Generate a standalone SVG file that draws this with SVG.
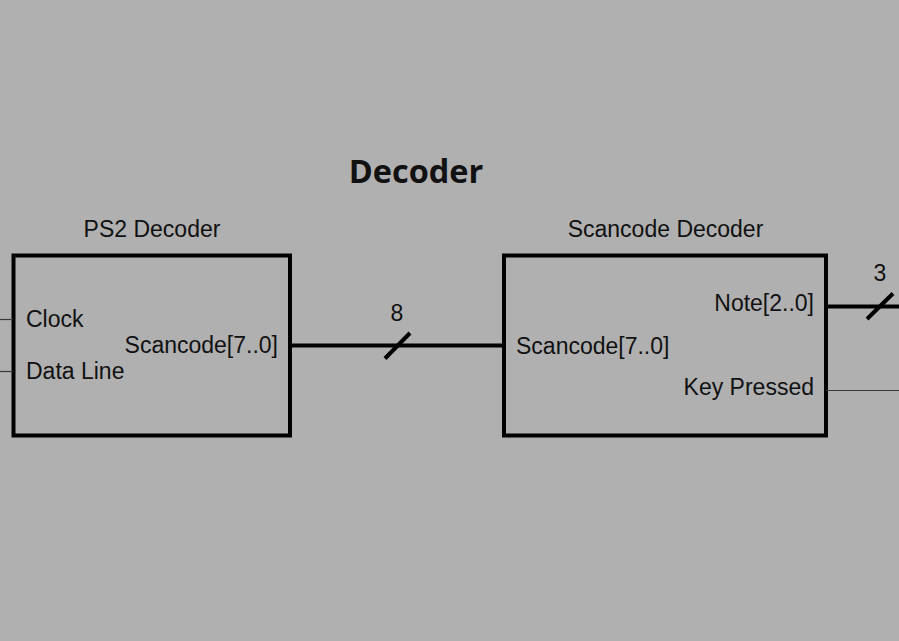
<svg xmlns="http://www.w3.org/2000/svg" width="899" height="641" viewBox="0 0 899 641">
  <style>
    .box { fill: none; stroke: #000; stroke-width: 4; }
    .bus { stroke: #000; stroke-width: 4; fill: none; }
    .sig { stroke: #3a3a3a; stroke-width: 1.2; fill: none; }
    .lbl { font-family: "Liberation Sans", Arial, sans-serif; font-size: 23px; fill: #111; }
    .title { font-family: "Open Sans", "Liberation Sans", sans-serif; font-size: 32.5px; font-weight: bold; fill: #111; }
  </style>
  <rect x="0" y="0" width="899" height="641" fill="#b0b0b0"/>
  <text class="title" x="416" y="183" text-anchor="middle">Decoder</text>

  <g id="ps2-decoder">
    <rect class="box" x="13.5" y="255.5" width="276.5" height="180"/>
    <text class="lbl" x="152" y="237" text-anchor="middle">PS2 Decoder</text>
    <text class="lbl" x="26" y="327">Clock</text>
    <text class="lbl" x="26" y="379">Data Line</text>
    <text class="lbl" x="278" y="353" text-anchor="end">Scancode[7..0]</text>
  </g>

  <g id="scancode-decoder">
    <rect class="box" x="504" y="255.5" width="322" height="180"/>
    <text class="lbl" x="665.5" y="237" text-anchor="middle">Scancode Decoder</text>
    <text class="lbl" x="516" y="354">Scancode[7..0]</text>
    <text class="lbl" x="814" y="311" text-anchor="end">Note[2..0]</text>
    <text class="lbl" x="814" y="395" text-anchor="end">Key Pressed</text>
  </g>

  <g id="connectors">
    <line class="sig" x1="0" y1="319.5" x2="13" y2="319.5"/>
    <line class="sig" x1="0" y1="371.5" x2="13" y2="371.5"/>
    <line class="bus" x1="290" y1="345.5" x2="504" y2="345.5"/>
    <line class="bus" x1="385" y1="358.5" x2="410" y2="333"/>
    <text class="lbl" x="397" y="321" text-anchor="middle">8</text>
    <line class="bus" x1="826" y1="306.5" x2="899" y2="306.5"/>
    <line class="bus" x1="867" y1="319" x2="893" y2="293.5"/>
    <text class="lbl" x="880" y="281" text-anchor="middle">3</text>
    <line class="sig" x1="826" y1="390.5" x2="899" y2="390.5"/>
  </g>
</svg>
